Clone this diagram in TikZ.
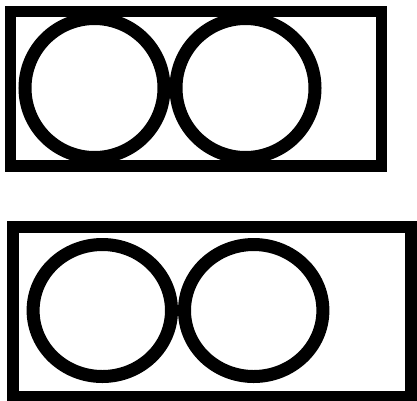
\documentclass[tikz,border=0pt]{standalone}
\usetikzlibrary{shapes.geometric}
\begin{document}
\begin{tikzpicture}[x=1pt,y=-1pt,
  boxshape/.style={draw=black,rectangle,inner sep=0pt,line width=11.5pt},
  ring/.style={draw=black,ellipse,inner sep=0pt,line width=13pt}]
\useasboundingbox (0,0) rectangle (417,400);
\node[boxshape,minimum width=371pt,minimum height=154.5pt] (r1) at (196,88.75) {};
\node[ring,minimum width=139pt,minimum height=139pt] (c1) at (94.5,88) {};
\node[ring,minimum width=139pt,minimum height=139pt] (c2) at (245.5,88) {};
\node[boxshape,line width=12pt,minimum width=398pt,minimum height=170pt] (r2) at (212,311.5) {};
\node[ring,minimum width=138.4pt,minimum height=132pt] (c3) at (102.3,310.5) {};
\node[ring,minimum width=138.4pt,minimum height=132pt] (c4) at (253.7,310.5) {};
\end{tikzpicture}
\end{document}
